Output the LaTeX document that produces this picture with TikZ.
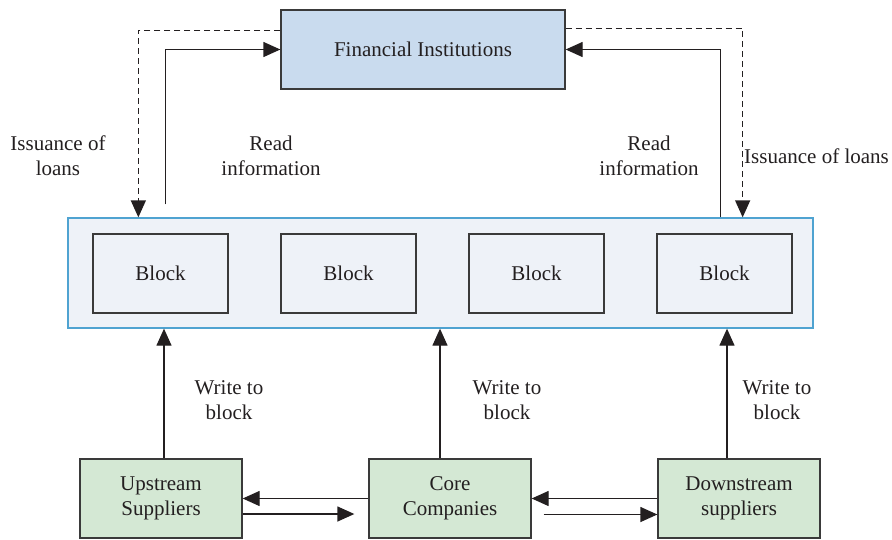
\documentclass[tikz,border=0pt]{standalone}
\usepackage{fontspec}
\setmainfont{Liberation Serif}
\usetikzlibrary{arrows.meta}
\definecolor{txt}{HTML}{231F20}
\definecolor{edge}{HTML}{3A3A3A}
\definecolor{fifill}{HTML}{C9DBEE}
\definecolor{contfill}{HTML}{EEF2F8}
\definecolor{contedge}{HTML}{4FA3D1}
\definecolor{greenfill}{HTML}{D4E8D4}
\tikzset{
  box/.style={draw=edge, line width=1.3pt, inner sep=0pt, text=txt, align=center,
    font=\fontsize{21}{25}\selectfont},
  fibox/.style={box, fill=fifill, minimum width=284pt, minimum height=79pt},
  contbox/.style={draw=contedge, line width=1.3pt, fill=contfill, inner sep=0pt,
    minimum width=745pt, minimum height=110pt},
  blockbox/.style={box, minimum width=135pt, minimum height=79pt},
  greenbox/.style={box, fill=greenfill, minimum width=162pt, minimum height=79pt},
  lbl/.style={text=txt, align=center, inner sep=0pt, font=\fontsize{21}{25}\selectfont},
  arr/.style={draw=txt, line width=1.3pt, -{Triangle[length=17pt,width=15pt]}},
  dasharr/.style={arr, dashed, dash pattern=on 6pt off 4pt}
}
\begin{document}
\begin{tikzpicture}[x=1pt,y=-1pt]
\useasboundingbox (0,0) rectangle (892,539);
\node[fibox] (fi) at (423,49.5) {Financial Institutions};
\node[contbox] (cont) at (440.5,273) {};
\node[blockbox] (b1) at (160.5,273.5) {Block};
\node[blockbox] (b2) at (348.5,273.5) {Block};
\node[blockbox] (b3) at (536.5,273.5) {Block};
\node[blockbox] (b4) at (724.5,273.5) {Block};
\node[greenbox] (up) at (161,498.5) {Upstream\\Suppliers};
\node[greenbox] (core) at (450,498.5) {Core\\Companies};
\node[greenbox] (down) at (739,498.5) {Downstream\\suppliers};
% top connectors
\draw[dasharr] ([yshift=-21pt]fi.north west) -| ([xshift=71pt]cont.north west);
\draw[arr] ([xshift=98pt,yshift=13pt]cont.north west) |- (fi.west);
\draw[dasharr] ([yshift=-19pt]fi.north east) -| ([xshift=-71pt]cont.north east);
\draw[arr] ([xshift=-93pt]cont.north east) |- (fi.east);
% write to block
\draw[arr] ([xshift=3pt]up.north) -- ([xshift=3pt]up.north |- cont.south);
\draw[arr] ([xshift=-10pt]core.north) -- ([xshift=-10pt]core.north |- cont.south);
\draw[arr] ([xshift=-12pt]down.north) -- ([xshift=-12pt]down.north |- cont.south);
% bottom horizontal
\draw[arr] (core.west) -- (up.east);
\draw[arr] ([yshift=-15.5pt]up.east) -- ([yshift=-15.5pt,xshift=-14pt]core.west);
\draw[arr] (down.west) -- (core.east);
\draw[arr] ([yshift=-16pt,xshift=12pt]core.east) -- ([yshift=-16pt]down.west);
% labels
\node[lbl] (l1) at (58,156) {Issuance of\\loans};
\node[lbl] (l2) at (271,156) {Read\\information};
\node[lbl] (l3) at (649,156) {Read\\information};
\node[lbl, anchor=west] (l4) at (744,156) {Issuance of loans};
\node[lbl] (w1) at (229,400) {Write to\\block};
\node[lbl] (w2) at (507,400) {Write to\\block};
\node[lbl] (w3) at (777,400) {Write to\\block};
\end{tikzpicture}
\end{document}
